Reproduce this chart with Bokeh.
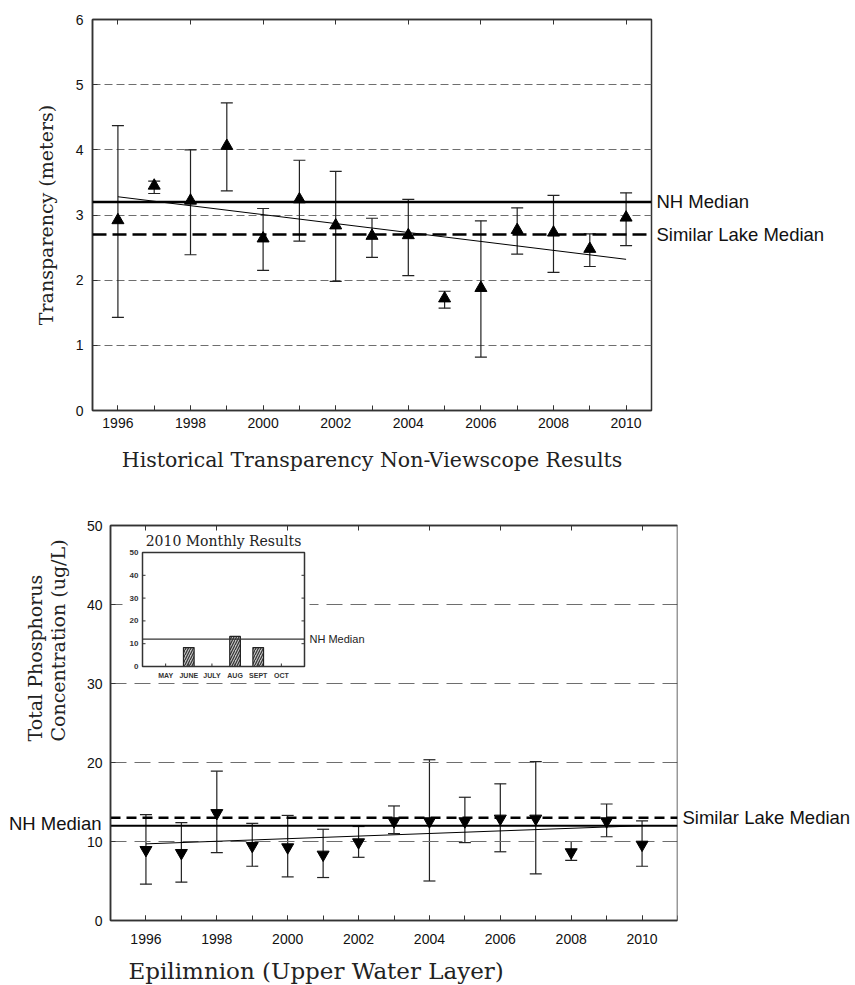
import math
from bokeh.plotting import figure
from bokeh.models import (ColumnDataSource, Whisker, TeeHead, Span, Range1d,
                          LinearAxis, SingleIntervalTicker, FixedTicker, AllLabels)
from bokeh.embed import file_html
from bokeh.resources import INLINE
from bokeh.core.properties import value

nan = float("nan")

# ---------------- data ----------------
years = list(range(1996, 2011))

# Transparency (meters)
secchi_mean = [2.92, 3.45, 3.22, 4.06, 2.64, 3.24, 2.84, 2.68, 2.69, 1.72, 1.88, 2.77, 2.73, 2.48, 2.96]
secchi_low = [1.43, 3.33, 2.39, 3.37, 2.15, 2.60, 1.98, 2.35, 2.07, 1.57, 0.82, 2.40, 2.12, 2.21, 2.53]
secchi_high = [4.37, 3.52, 4.00, 4.72, 3.10, 3.84, 3.67, 2.95, 3.24, 1.83, 2.91, 3.11, 3.30, 2.71, 3.34]
secchi_nh_median = 3.2
secchi_similar_median = 2.7
secchi_trend_x = [1996, 2010]
secchi_trend_y = [3.28, 2.32]
secchi_yticks = [0, 1, 2, 3, 4, 5, 6]
secchi_grid = [1, 2, 3, 4, 5]

# Total phosphorus (ug/L)
tp_mean = [8.93, 8.55, 13.6, 9.44, 9.27, 8.34, 9.9, 12.56, 12.56, 12.56, 12.9, 12.9, 8.64, 12.56, 9.6]
tp_low = [4.6, 4.85, 8.6, 6.87, 5.52, 5.44, 8.0, 11.0, 5.0, 9.86, 8.7, 5.9, 7.6, 10.6, 6.87]
tp_high = [13.4, 12.4, 18.9, 12.3, 13.3, 11.55, 11.9, 14.5, 20.35, 15.6, 17.3, 20.1, 10.0, 14.75, 12.6]
tp_nh_median = 12.0
tp_similar_median = 13.0
tp_trend_x = [1996, 2010]
tp_trend_y = [9.7, 12.0]
tp_yticks = [0, 10, 20, 30, 40, 50]
tp_grid = [10, 20, 30, 40]

# 2010 monthly inset
months = ["MAY", "JUNE", "JULY", "AUG", "SEPT", "OCT"]
month_tp = [nan, 8.3, nan, 13.2, 8.3, nan]
inset_yticks = [0, 10, 20, 30, 40, 50]

median_labels = ["NH Median", "Similar Lake Median"]
tp_ylabel = ["Total Phosphorus", "Concentration (ug/L)"]
tp_xlabel = "Epilimnion (Upper Water Layer)"

# ---------------- styles ----------------
W = 855
FRAME = "#333333"
GRID = "#6e6e6e"
SANS = "Liberation Sans"
SERIF = "DejaVu Serif"
SIDE_FONT = "18.5px"


def style_axes(p):
    p.xgrid.visible = False
    for ax in p.axis:
        ax.axis_line_color = FRAME
        ax.axis_line_width = 1.5
        ax.major_tick_in = 5
        ax.major_tick_out = 0
        ax.minor_tick_in = 5
        ax.minor_tick_out = 0
        ax.major_tick_line_color = FRAME
        ax.minor_tick_line_color = FRAME
        ax.major_label_text_font = SANS
        ax.major_label_text_font_size = "14px"
        ax.major_label_text_color = "#111111"
        ax.axis_label_text_font = SERIF
        ax.axis_label_text_font_size = "19px"
        ax.axis_label_text_font_style = "normal"
        ax.axis_label_text_color = "#222222"


def add_top_ticks(p, bounds="auto", fixed_location=None):
    ax = LinearAxis(ticker=SingleIntervalTicker(interval=2, num_minor_ticks=0), bounds=bounds,
                    fixed_location=fixed_location,
                    major_label_text_font_size="1px", major_label_text_color=None,
                    major_label_standoff=0, axis_line_color=FRAME, axis_line_width=1.5,
                    major_tick_in=5, major_tick_out=0, major_tick_line_color=FRAME,
                    minor_tick_line_color=None)
    p.add_layout(ax, "above")


def add_side_text(p, side, ticks, texts, standoff=5):
    ax = LinearAxis(ticker=FixedTicker(ticks=ticks, minor_ticks=[]),
                    major_label_overrides={t: s for t, s in zip(ticks, texts)},
                    major_label_policy=AllLabels(),
                    axis_line_color=None, major_tick_line_color=None, minor_tick_line_color=None,
                    major_tick_in=0, major_tick_out=0,
                    major_label_standoff=standoff, major_label_text_font=SANS,
                    major_label_text_font_size=SIDE_FONT, major_label_text_color="#111111")
    p.add_layout(ax, side)


# ---------------- top chart ----------------
sx0, sx1 = 1995.3, 2010.7
top = figure(width=W, height=490, x_range=Range1d(sx0, sx1), y_range=Range1d(0, 6),
             output_backend="svg", toolbar_location=None,
             min_border_left=92, min_border_right=204, min_border_top=19, min_border_bottom=80)
style_axes(top)
top.outline_line_color = FRAME
top.outline_line_width = 1.5
top.xaxis.ticker = SingleIntervalTicker(interval=2, num_minor_ticks=2)
top.xaxis.major_label_standoff = 7
top.xaxis.axis_label = "Historical Transparency Non-Viewscope Results"
top.xaxis.axis_label_text_font_size = "20.5px"
top.xaxis.axis_label_standoff = 17
top.yaxis.ticker = FixedTicker(ticks=secchi_yticks, minor_ticks=[])
top.yaxis.major_label_standoff = 9
top.yaxis.axis_label = "Transparency (meters)"
top.yaxis.axis_label_standoff = 16
top.ygrid.ticker = FixedTicker(ticks=secchi_grid)
top.ygrid.grid_line_color = GRID
top.ygrid.grid_line_dash = "8 4"
top.ygrid.grid_line_width = 1.2
add_top_ticks(top)
add_side_text(top, "right", [secchi_nh_median, secchi_similar_median], median_labels)

top.add_layout(Span(location=secchi_nh_median, dimension="width", line_color="black", line_width=2.5))
top.add_layout(Span(location=secchi_similar_median, dimension="width", line_color="black",
                    line_width=2.5, line_dash="14 6"))
top.line(secchi_trend_x, secchi_trend_y, line_color="black", line_width=1)

src_s = ColumnDataSource(dict(x=years, mean=secchi_mean, low=secchi_low, high=secchi_high))
top.add_layout(Whisker(source=src_s, base="x", upper="high", lower="low", dimension="height",
                       line_color="#222222", line_width=1.2,
                       upper_head=TeeHead(size=12, line_color="#222222", line_width=1.2),
                       lower_head=TeeHead(size=12, line_color="#222222", line_width=1.2)))
top.scatter("x", "mean", source=src_s, marker="triangle", size=12, color="black")

# ---------------- bottom chart ----------------
# The frame fills the figure (except the right-hand text panel) so that all texts around the
# chart box can be drawn inside it; the visible chart box is bx0..bx1 x by0..by1.
bx0, bx1 = 1995, 2011
by0, by1 = tp_yticks[0], tp_yticks[-1]
BH = 495
CH = dict(l=110, r=677, t=35, b=430)   # visible chart box in figure pixels
bx_px = (CH["r"] - CH["l"]) / (bx1 - bx0)
by_px = (CH["b"] - CH["t"]) / (by1 - by0)
bot = figure(width=W, height=BH,
             x_range=Range1d(bx0 - CH["l"] / bx_px, bx1),
             y_range=Range1d(by0 - (BH - CH["b"]) / by_px, by1 + CH["t"] / by_px),
             output_backend="svg", toolbar_location=None,
             min_border_left=0, min_border_right=W - CH["r"], min_border_top=0, min_border_bottom=0)
style_axes(bot)
bot.outline_line_color = None
bot.ygrid.visible = False
bot.xaxis.ticker = SingleIntervalTicker(interval=2, num_minor_ticks=2)
bot.xaxis.bounds = (bx0, bx1)
bot.xaxis.fixed_location = by0
bot.xaxis.major_label_standoff = 13
bot.yaxis.ticker = FixedTicker(ticks=tp_yticks, minor_ticks=[])
bot.yaxis.bounds = (by0, by1)
bot.yaxis.fixed_location = bx0
bot.yaxis.major_label_standoff = 8
add_top_ticks(bot, bounds=(bx0, bx1), fixed_location=by1)
add_side_text(bot, "right", [tp_similar_median], median_labels[1:])

# grid, box and medians
bot.segment(x0=[bx0] * len(tp_grid), x1=[bx1] * len(tp_grid), y0=tp_grid, y1=tp_grid,
            line_color=GRID, line_width=1.2, line_dash="16 8")
bot.quad(left=bx0, right=bx1, bottom=by0, top=by1, fill_color=None, line_color=FRAME, line_width=1.5)
bot.segment(x0=[bx0], x1=[bx1], y0=[tp_nh_median], y1=[tp_nh_median], line_color="black", line_width=2)
bot.segment(x0=[bx0], x1=[bx1], y0=[tp_similar_median], y1=[tp_similar_median], line_color="black",
            line_width=2.5, line_dash="10 6")
bot.line(tp_trend_x, tp_trend_y, line_color="black", line_width=1)

src_t = ColumnDataSource(dict(x=years, mean=tp_mean, low=tp_low, high=tp_high))
bot.add_layout(Whisker(source=src_t, base="x", upper="high", lower="low", dimension="height",
                       line_color="#222222", line_width=1.2,
                       upper_head=TeeHead(size=12, line_color="#222222", line_width=1.2),
                       lower_head=TeeHead(size=12, line_color="#222222", line_width=1.2)))
bot.scatter("x", "mean", source=src_t, marker="inverted_triangle", size=12, color="black")

# texts around the chart box
bot.text(x=[bx0], y=[tp_nh_median], text=[median_labels[0]], x_offset=-9, y_offset=-2,
         text_align="right", text_baseline="middle", text_font=value(SANS), text_font_size=SIDE_FONT,
         text_color="#111111")
bot.text(x=[bx0 - 76 / bx_px, bx0 - 53 / bx_px], y=[by0 + 179 / by_px] * 2, text=tp_ylabel,
         angle=math.pi / 2, text_align="left", text_baseline="middle", text_font=value(SERIF),
         text_font_size="19px", text_color="#222222")
bot.text(x=[bx0 + 18 / bx_px], y=[by0 - 50 / by_px], text=[tp_xlabel], text_align="left",
         text_baseline="middle", text_font=value(SERIF), text_font_size="23px", text_color="#222222")

# ---------------- inset (own ranges inside the bottom frame) ----------------
IN = dict(l=142, r=304, t=62, b=176)   # inset frame box in figure pixels
ix0, ix1 = 0, len(months) + 1
iy0, iy1 = inset_yticks[0], inset_yticks[-1]
psx = (IN["r"] - IN["l"]) / (ix1 - ix0)
psy = (IN["b"] - IN["t"]) / (iy1 - iy0)
bot.extra_x_ranges = {"ix": Range1d(ix0 - IN["l"] / psx, ix1 + (CH["r"] - IN["r"]) / psx)}
bot.extra_y_ranges = {"iy": Range1d(iy0 - (BH - IN["b"]) / psy, iy1 + IN["t"] / psy)}
R = dict(x_range_name="ix", y_range_name="iy")


def ipx(px):
    return ix0 + (px - IN["l"]) / psx


def ipy(py):
    return iy0 + (IN["b"] - py) / psy


month_x = list(range(1, len(months) + 1))

bot.quad(left=ipx(122), right=ipx(309), bottom=ipy(191), top=ipy(38),
         fill_color="white", line_color=None, **R)
bot.vbar(x=month_x, top=month_tp, bottom=0, width=0.46, fill_color="#c4c4c4", line_color="#222222",
         line_width=1.2, hatch_pattern="/", hatch_color="#333333", hatch_scale=5, hatch_weight=1.2, **R)
bot.line([ix0, ix1], [tp_nh_median, tp_nh_median], line_color="#333333", line_width=1.3, **R)
bot.quad(left=ix0, right=ix1, bottom=iy0, top=iy1, fill_color=None, line_color=FRAME, line_width=1.5, **R)
tk = 3
mid_ticks = inset_yticks[1:-1]
bot.segment(x0=[ix0] * len(mid_ticks), x1=[ix0 + tk / psx] * len(mid_ticks), y0=mid_ticks, y1=mid_ticks,
            line_color=FRAME, line_width=1, **R)
bot.segment(x0=[ix1 - tk / psx] * len(mid_ticks), x1=[ix1] * len(mid_ticks), y0=mid_ticks, y1=mid_ticks,
            line_color=FRAME, line_width=1, **R)
bot.segment(x0=month_x, x1=month_x, y0=[iy0] * len(months), y1=[iy0 + tk / psy] * len(months),
            line_color=FRAME, line_width=1, **R)

bot.text(x=[(ix0 + ix1) / 2], y=[ipy(50)], text=["2010 Monthly Results"], text_align="center",
         text_baseline="middle", text_font=value(SERIF), text_font_size="14px", text_color="#222222", **R)
bot.text(x=[ix0] * len(inset_yticks), y=inset_yticks, text=[str(v) for v in inset_yticks], x_offset=-4,
         text_align="right", text_baseline="middle", text_font=value(SANS), text_font_style="bold",
         text_font_size="8px", text_color="#333333", **R)
bot.text(x=month_x, y=[iy0] * len(months), text=months, y_offset=9, text_align="center",
         text_baseline="middle", text_font=value(SANS), text_font_style="bold", text_font_size="7px",
         text_color="#333333", **R)
bot.text(x=[ix1], y=[tp_nh_median], text=["NH Median"], x_offset=5, text_align="left",
         text_baseline="middle", text_font=value(SANS), text_font_size="11px", text_color="#222222", **R)

open("out.html", "w").write(file_html([top, bot], INLINE))
